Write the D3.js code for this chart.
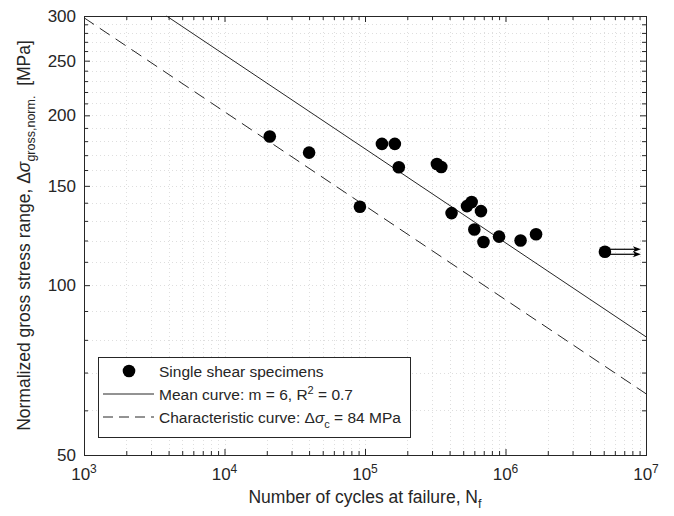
<!DOCTYPE html>
<html>
<head>
<meta charset="utf-8">
<script src="https://cdn.jsdelivr.net/npm/d3@7"></script>
<style>
  body { margin: 0; background: #fff; }
  svg { display: block; font-family: "Liberation Sans", Arial, Helvetica, sans-serif; }
</style>
</head>
<body>
<div id="chart"></div>
<script>
// test results
var cyclesN = [2.1e4, 4.0e4, 9.2e4, 1.32e5, 1.63e5, 1.74e5, 3.25e5, 3.49e5, 4.13e5,
               5.32e5, 5.74e5, 6.69e5, 6.0e5, 6.97e5, 9.0e5, 1.28e6, 1.65e6, 5.1e6];
var stressS = [183.5, 171.8, 137.7, 178, 178, 161.8, 164, 162, 134.2,
               138.1, 140.4, 135.3, 125.5, 119.3, 121.9, 120, 123.1, 114.6];
var runoutIndex = 17; // last specimen did not fail

// S-N curves (end points)
var meanCurveN = [3.87e3, 1e7];
var meanCurveS = [300, 81];
var charCurveN = [1e3, 1e7];
var charCurveS = [297.9, 64.2];

var xMajor = [1e3, 1e4, 1e5, 1e6, 1e7];
var xExponents = ['3', '4', '5', '6', '7'];
var yMajor = [50, 100, 150, 200, 250, 300];

var width = 674, height = 516;
var plotLeft = 84, plotRight = 646, plotTop = 16, plotBottom = 455;
var axisColor = '#262626';
var gridColor = '#dedede';

var x = d3.scaleLog().domain([1e3, 1e7]).range([plotLeft, plotRight]);
var y = d3.scaleLog().domain([50, 300]).range([plotBottom, plotTop]);

var xMinor = [];
for (var d = 1e3; d < 1e7; d *= 10) {
    for (var k = 2; k <= 9; k++) xMinor.push(d * k);
}
var yMinor = [];
for (var v = 60; v < 300; v += 10) {
    if (yMajor.indexOf(v) < 0) yMinor.push(v);
}

var svg = d3.select('#chart').append('svg')
    .attr('width', width)
    .attr('height', height);

// dotted grid
var grid = svg.append('g');
grid.selectAll('line.gx').data(xMinor.concat(xMajor.slice(1, 4))).enter().append('line')
    .attr('x1', function(d) { return Math.round(x(d)) + 0.5; })
    .attr('x2', function(d) { return Math.round(x(d)) + 0.5; })
    .attr('y1', plotTop).attr('y2', plotBottom)
    .style('stroke', gridColor)
    .style('stroke-dasharray', '1,3');
grid.selectAll('line.gy').data(yMinor.concat(yMajor.slice(1, 5))).enter().append('line')
    .attr('y1', function(d) { return Math.round(y(d)) + 0.5; })
    .attr('y2', function(d) { return Math.round(y(d)) + 0.5; })
    .attr('x1', plotLeft).attr('x2', plotRight)
    .style('stroke', gridColor)
    .style('stroke-dasharray', '1,3');

// ticks on all four sides, pointing inward
function tickAxis(axis, transform, values, size) {
    var g = svg.append('g')
        .attr('transform', transform)
        .call(axis.tickValues(values).tickSize(size).tickFormat(''));
    g.select('.domain').remove();
    g.selectAll('line').style('stroke', axisColor);
    return g;
}
tickAxis(d3.axisBottom(x), 'translate(0,' + plotBottom + ')', xMajor, -6);
tickAxis(d3.axisBottom(x), 'translate(0,' + plotBottom + ')', xMinor, -4);
tickAxis(d3.axisTop(x), 'translate(0,' + plotTop + ')', xMajor, -6);
tickAxis(d3.axisTop(x), 'translate(0,' + plotTop + ')', xMinor, -4);
tickAxis(d3.axisLeft(y), 'translate(' + plotLeft + ',0)', yMajor, -6);
tickAxis(d3.axisLeft(y), 'translate(' + plotLeft + ',0)', yMinor, -4);
tickAxis(d3.axisRight(y), 'translate(' + plotRight + ',0)', yMajor, -6);
tickAxis(d3.axisRight(y), 'translate(' + plotRight + ',0)', yMinor, -4);

// box
svg.append('rect')
    .attr('x', plotLeft + 0.5).attr('y', plotTop + 0.5)
    .attr('width', plotRight - plotLeft).attr('height', plotBottom - plotTop)
    .style('fill', 'none')
    .style('stroke', axisColor)
    .style('stroke-width', 1);

// tick labels
svg.selectAll('text.ylab').data(yMajor).enter().append('text')
    .attr('x', plotLeft - 8)
    .attr('y', function(d) { return y(d) + 6; })
    .style('text-anchor', 'end')
    .style('font-size', '17px')
    .style('fill', axisColor)
    .text(function(d) { return d; });

var xl = svg.selectAll('text.xlab').data(xMajor).enter().append('text')
    .attr('x', function(d) { return x(d); })
    .attr('y', plotBottom + 25)
    .style('text-anchor', 'middle')
    .style('font-size', '17px')
    .style('fill', axisColor);
xl.append('tspan').text('10');
xl.append('tspan')
    .attr('dy', -7)
    .style('font-size', '12px')
    .text(function(d, i) { return xExponents[i]; });

// axis titles
var xt = svg.append('text')
    .attr('x', (plotLeft + plotRight) / 2)
    .attr('y', plotBottom + 48)
    .style('text-anchor', 'middle')
    .style('font-size', '17.5px')
    .style('fill', axisColor);
xt.append('tspan').text('Number of cycles at failure, N');
xt.append('tspan').attr('dy', 5).style('font-size', '12.5px').text('f');

var yt = svg.append('text')
    .attr('transform', 'translate(30,' + ((plotTop + plotBottom) / 2) + ') rotate(-90)')
    .style('text-anchor', 'middle')
    .style('font-size', '17.5px')
    .style('fill', axisColor);
yt.append('tspan').text('Normalized gross stress range, \u0394');
yt.append('tspan').style('font-style', 'italic').text('\u03c3');
yt.append('tspan').attr('dy', 5).style('font-size', '12.5px').text('gross,norm.');
yt.append('tspan').attr('dy', -5).text('\u00a0 [MPa]');

// S-N curves
var line = d3.line()
    .x(function(d) { return x(d[0]); })
    .y(function(d) { return y(d[1]); });

svg.append('path')
    .datum(d3.zip(meanCurveN, meanCurveS))
    .attr('d', line)
    .style('fill', 'none')
    .style('stroke', axisColor)
    .style('stroke-width', 1);

svg.append('path')
    .datum(d3.zip(charCurveN, charCurveS))
    .attr('d', line)
    .style('fill', 'none')
    .style('stroke', axisColor)
    .style('stroke-width', 1)
    .style('stroke-dasharray', '12,7');

// run-out arrow (double shaft)
var rx = x(cyclesN[runoutIndex]), ry = y(stressS[runoutIndex]);
[-2.5, 2.5].forEach(function(off) {
    svg.append('line')
        .attr('x1', rx + 5).attr('x2', rx + 32)
        .attr('y1', ry + off).attr('y2', ry + off)
        .style('stroke', '#000')
        .style('stroke-width', 1.2);
    svg.append('path')
        .attr('d', 'M' + (rx + 36) + ',' + (ry + off) + 'L' + (rx + 28) + ',' + (ry + off - 3) +
                   'L' + (rx + 30) + ',' + (ry + off) + 'L' + (rx + 28) + ',' + (ry + off + 3) + 'Z')
        .style('fill', '#000');
});

// specimens
svg.selectAll('circle.pt').data(d3.zip(cyclesN, stressS)).enter().append('circle')
    .attr('cx', function(d) { return x(d[0]); })
    .attr('cy', function(d) { return y(d[1]); })
    .attr('r', 6.3)
    .style('fill', '#000');

// legend
var lg = svg.append('g');
lg.append('rect')
    .attr('x', 98.5).attr('y', 357.5)
    .attr('width', 312).attr('height', 80)
    .style('fill', '#fff')
    .style('stroke', axisColor);
lg.append('circle').attr('cx', 129).attr('cy', 371).attr('r', 6.3).style('fill', '#000');
lg.append('line').attr('x1', 103).attr('x2', 154).attr('y1', 394).attr('y2', 394)
    .style('stroke', axisColor);
lg.append('line').attr('x1', 103).attr('x2', 154).attr('y1', 417).attr('y2', 417)
    .style('stroke', axisColor).style('stroke-dasharray', '10,6');

function legendText(yPos) {
    return lg.append('text')
        .attr('x', 159).attr('y', yPos)
        .style('font-size', '15.5px')
        .style('fill', axisColor);
}
legendText(377).text('Single shear specimens');
var t2 = legendText(400);
t2.append('tspan').text('Mean curve: m = 6, R');
t2.append('tspan').attr('dy', -6).style('font-size', '11px').text('2');
t2.append('tspan').attr('dy', 6).text(' = 0.7');
var t3 = legendText(423);
t3.append('tspan').text('Characteristic curve: \u0394');
t3.append('tspan').style('font-style', 'italic').text('\u03c3');
t3.append('tspan').attr('dy', 5).style('font-size', '11px').text('c');
t3.append('tspan').attr('dy', -5).text(' = 84 MPa');
</script>
</body>
</html>
